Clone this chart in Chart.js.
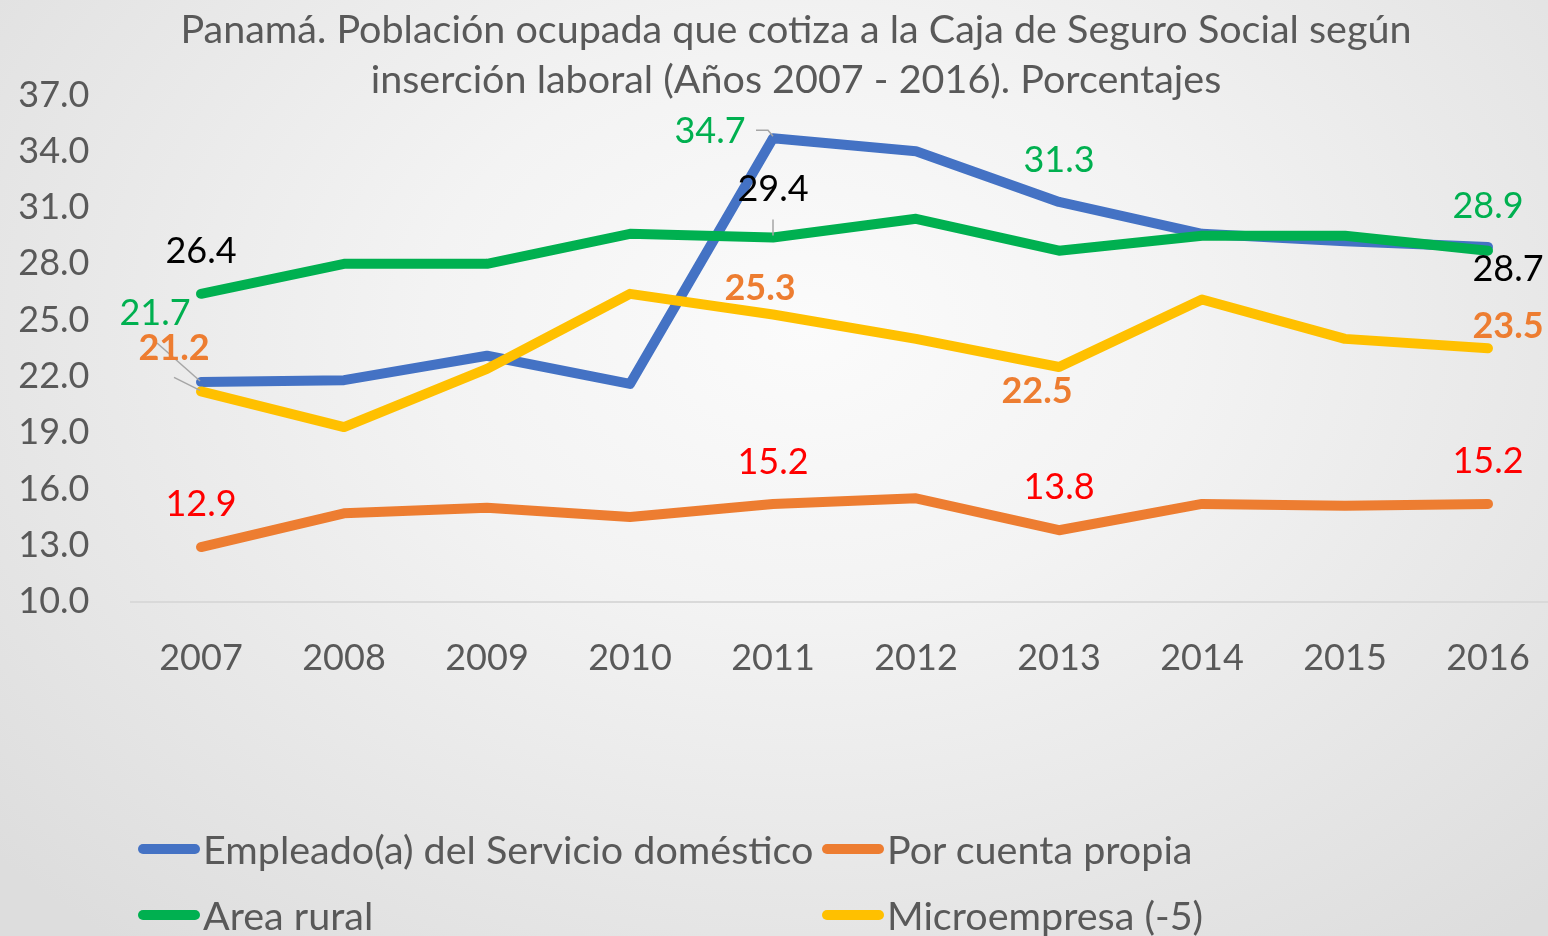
<!DOCTYPE html>
<html lang="es">
<head>
<meta charset="utf-8">
<title>Panamá. Población ocupada que cotiza a la Caja de Seguro Social</title>
<script src="https://cdn.jsdelivr.net/npm/chart.js@4.4.1/dist/chart.umd.min.js"></script>
<style>
  html, body {
    margin: 0;
    padding: 0;
    width: 1548px;
    height: 936px;
    overflow: hidden;
  }
  body {
    background: radial-gradient(ellipse 70% 85% at 52% 35%, #fbfbfb 0%, #f3f3f3 35%, #dddddd 100%);
    font-family: Lato, "Noto Sans", sans-serif;
  }
  #wrap {
    position: absolute;
    left: 0;
    top: 0;
    width: 1592px;
    height: 936px;
  }
  #legend {
    position: absolute;
    left: 138px;
    top: 816px;
    display: grid;
    grid-template-columns: 684px auto;
    color: #595959;
    font-size: 39.5px;
    line-height: 66px;
  }
  .item {
    display: flex;
    align-items: center;
    white-space: nowrap;
  }
  .mark {
    display: inline-block;
    width: 62px;
    height: 10px;
    border-radius: 5px;
    margin-right: 3px;
  }
</style>
</head>
<body>
<div id="wrap">
  <canvas id="lineChart" width="1592" height="936"></canvas>
</div>
<div id="legend"></div>

<script>
// categories
const years = ["2007", "2008", "2009", "2010", "2011", "2012", "2013", "2014", "2015", "2016"];

// series values (percentages)
const domestico = [21.7, 21.8, 23.1, 21.6, 34.7, 34.0, 31.3, 29.6, 29.2, 28.9];
const cuentaPropia = [12.9, 14.7, 15.0, 14.5, 15.2, 15.5, 13.8, 15.2, 15.1, 15.2];
const areaRural = [26.4, 28.0, 28.0, 29.6, 29.4, 30.4, 28.7, 29.5, 29.5, 28.7];
const microempresa = [21.2, 19.3, 22.4, 26.4, 25.3, 24.0, 22.5, 26.1, 24.0, 23.5];

// y axis
const yMin = 10;
const yMax = 37;
const yStep = 3;

const titleLines = [
  "Panamá. Población ocupada que cotiza a la Caja de Seguro Social según",
  "inserción laboral (Años 2007 - 2016). Porcentajes",
];

const FONT = "Lato";
const GREY = "#595959";

const series = [
  { label: "Empleado(a) del Servicio doméstico", data: domestico, color: "#4472C4", order: 3 },
  { label: "Por cuenta propia", data: cuentaPropia, color: "#ED7D31", order: 2 },
  { label: "Area rural", data: areaRural, color: "#00B050", order: 1 },
  { label: "Microempresa (-5)", data: microempresa, color: "#FFC000", order: 0 },
];

// which points carry a value label, and where it sits relative to the point
const pointLabels = [
  { ds: 0, color: "#00B050", bold: false, at: { 0: [-46, -69], 4: [-63, -7], 6: [0, -42], 9: [0, -41] },
    leaders: { 0: [[-44, -39], [-1, -1]], 4: [[-17, -8], [-5, -8], [0, -2]] } },
  { ds: 1, color: "#FF0000", bold: false, at: { 0: [0, -43], 4: [0, -42], 6: [0, -43], 9: [0, -43] } },
  { ds: 2, color: "#000000", bold: false, at: { 0: [0, -42], 4: [0, -48], 9: [20, 19] },
    leaders: { 4: [[0, -18], [0, -2]] } },
  { ds: 3, color: "#ED7D31", bold: true, at: { 0: [-27, -43], 4: [-13, -26], 6: [-22, 24], 9: [20, -22] },
    leaders: { 0: [[-27, -14], [-1, -1]] } },
];

const labelPlugin = {
  id: "pointLabels",
  afterDatasetsDraw(chart) {
    const ctx = chart.ctx;
    ctx.save();
    pointLabels.forEach((cfg) => {
      const meta = chart.getDatasetMeta(cfg.ds);
      const values = chart.data.datasets[cfg.ds].data;
      // leader lines first
      Object.entries(cfg.leaders || {}).forEach(([i, pts]) => {
        const p = meta.data[i];
        ctx.beginPath();
        pts.forEach(([dx, dy], k) => {
          if (k === 0) ctx.moveTo(p.x + dx, p.y + dy);
          else ctx.lineTo(p.x + dx, p.y + dy);
        });
        ctx.strokeStyle = "#a6a6a6";
        ctx.lineWidth = 1.5;
        ctx.stroke();
      });
      ctx.font = (cfg.bold ? "bold " : "") + "36px " + FONT;
      ctx.fillStyle = cfg.color;
      ctx.textAlign = "center";
      ctx.textBaseline = "middle";
      Object.entries(cfg.at).forEach(([i, [dx, dy]]) => {
        const p = meta.data[i];
        ctx.fillText(values[i].toFixed(1), p.x + dx, p.y + dy);
      });
    });
    ctx.restore();
  },
};

// html legend
const legendEl = document.getElementById("legend");
series.forEach((s) => {
  const item = document.createElement("div");
  item.className = "item";
  const mark = document.createElement("span");
  mark.className = "mark";
  mark.style.background = s.color;
  const txt = document.createElement("span");
  txt.textContent = s.label;
  item.appendChild(mark);
  item.appendChild(txt);
  legendEl.appendChild(item);
});

const ctx = document.getElementById("lineChart").getContext("2d");
new Chart(ctx, {
  type: "line",
  data: {
    labels: years,
    datasets: series.map((s) => ({
      label: s.label,
      data: s.data,
      borderColor: s.color,
      backgroundColor: s.color,
      borderWidth: 10,
      borderCapStyle: "round",
      borderJoinStyle: "round",
      pointRadius: 0,
      tension: 0,
      order: s.order,
      yAxisID: "y",
    })),
  },
  options: {
    responsive: false,
    devicePixelRatio: 1,
    animation: false,
    layout: { padding: 0 },
    plugins: {
      legend: { display: false },
      tooltip: { enabled: false },
      title: {
        display: true,
        fullSize: true,
        text: titleLines,
        color: GREY,
        font: { family: FONT, size: 39.5, weight: "normal", lineHeight: 1.266 },
        padding: { top: 5, bottom: -10 },
      },
    },
    scales: {
      x: {
        offset: true,
        grid: { display: false, offset: true },
        border: { display: false },
        ticks: { color: GREY, font: { family: FONT, size: 36 }, padding: 27, maxRotation: 0 },
        afterFit: (scale) => {
          scale.height = 334.5;
        },
      },
      y: {
        min: yMin,
        max: yMax,
        border: { display: false },
        grid: {
          drawTicks: false,
          lineWidth: 2,
          color: (c) => (c.tick && c.tick.value === yMin ? "#d9d9d9" : "rgba(0,0,0,0)"),
        },
        ticks: {
          stepSize: yStep,
          color: GREY,
          font: { family: FONT, size: 36 },
          padding: 40,
          callback: (v) => Number(v).toFixed(1),
        },
        afterFit: (scale) => {
          scale.width = 129.5;
        },
      },
      // empty spacer on the right so the title centres like the original
      spacer: {
        type: "linear",
        position: "right",
        display: true,
        grid: { display: false },
        border: { display: false },
        ticks: { display: false },
        afterFit: (scale) => {
          scale.width = 32.5;
        },
      },
    },
  },
  plugins: [labelPlugin],
});
</script>
</body>
</html>
